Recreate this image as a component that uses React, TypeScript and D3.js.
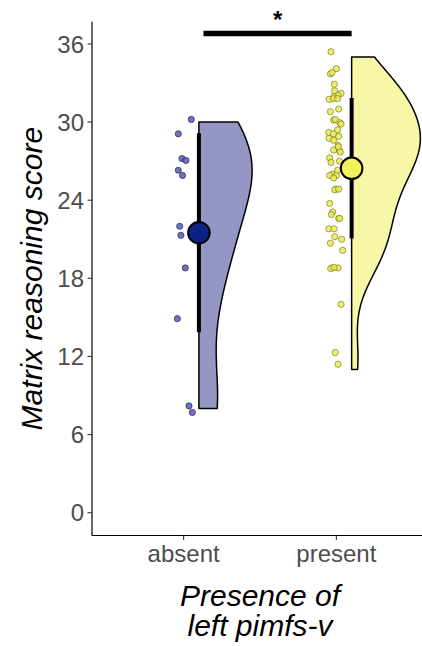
import React from 'react';
import * as d3 from 'd3';

// Groups on the x axis
const groups = ['absent', 'present'];

// Matrix reasoning scores per group
const absentScores = [30, 29, 27, 27, 26, 26, 22, 21, 19, 15, 8, 8];
const presentScores = [
  35, 34, 34, 34, 33, 32, 32, 32, 32, 32, 32, 32, 31, 31, 30, 30, 30, 29, 29, 29,
  29, 29, 28, 28, 28, 28, 27, 27, 26, 26, 26, 26, 26, 25, 25, 25, 24, 23, 23, 23,
  23, 22, 22, 21, 21, 21, 20, 19, 19, 19, 19, 16, 12, 11, 30, 29, 28, 27,
];

// Jitter applied to the raw points (x in category units, y in score units)
const absentJitterX = [0.05, -0.035, -0.011, 0.015, -0.035, -0.007, -0.026, -0.018, 0.011, -0.041, 0.035, 0.057];
const absentJitterY = [0.2, 0.1, 0.2, 0.05, 0.3, -0.1, 0, 0.3, -0.2, -0.1, 0.2, -0.3];
const presentJitterX = [
  -0.035, 0, -0.039, -0.028, -0.013, -0.011, 0.031, 0.011, -0.018, -0.048,
  -0.018, 0.008, 0.015, -0.039, -0.018, 0.022, 0.031, 0.008, -0.05, -0.048,
  0.015, -0.018, 0.011, 0.02, -0.018, 0.026, -0.044, -0.035, -0.026, -0.044,
  0, 0.008, -0.018, -0.002, -0.011, 0.015, -0.044, -0.024, -0.033, 0.015,
  0.022, -0.05, -0.015, -0.011, -0.039, 0.035, 0.041, -0.028, -0.037, 0.011,
  -0.015, 0.031, -0.007, 0.011, -0.007, -0.02, 0.013, 0.02,
];
const presentJitterY = [
  0.4, 0.1, -0.3, -0.2, -0.1, 0.4, 0.2, 0.05, -0.05, -0.25,
  -0.2, -0.2, 0, -0.2, 0.15, -0.05, -0.15, 0.4, 0.2, -0.25,
  -0.1, -0.4, 0.2, -0.2, -0.15, -0.3, 0.25, -0.1, 0, -0.1,
  -0.1, 0.3, -0.3, -0.15, -0.2, -0.15, -0.25, 0.1, -0.1, -0.4,
  -0.4, -0.2, -0.2, 0.2, -0.3, 0, 0.15, -0.2, -0.25, -0.2,
  -0.15, 0, 0.3, 0.4, 0.2, 0.1, 0.1, 0,
];

const yTicks = [0, 6, 12, 18, 24, 30, 36];

// Significance bracket between the two groups
const sigLabel = '*';
const sigFrom = 1.13;
const sigTo = 2.1;
const sigLevel = 36.8;

const W = 422;
const H = 646;
const FONT = '"Liberation Sans", Arial, Helvetica, sans-serif';

const styles = [
  { violin: '#9497c6', point: '#5858aa', pointStroke: '#262660', mean: '#0c2385' },
  { violin: '#f8f7a7', point: '#ebea52', pointStroke: '#7d7d28', mean: '#f3f15a' },
];

function bwNrd0(v: number[]) {
  const s = v.slice().sort(d3.ascending);
  const sd = d3.deviation(s) as number;
  const iqr = (d3.quantileSorted(s, 0.75) as number) - (d3.quantileSorted(s, 0.25) as number);
  const lo = Math.min(sd, iqr / 1.34);
  return 0.9 * lo * Math.pow(v.length, -0.2);
}

function kde(v: number[], n = 512) {
  const h = bwNrd0(v);
  const [lo, hi] = d3.extent(v) as [number, number];
  const norm = 1 / (v.length * h * Math.sqrt(2 * Math.PI));
  return d3.range(n).map((i) => {
    const y = lo + ((hi - lo) * i) / (n - 1);
    let s = 0;
    for (const xi of v) {
      const u = (y - xi) / h;
      s += Math.exp(-0.5 * u * u);
    }
    return { y, d: s * norm };
  });
}

export default function App() {
  const x = d3.scaleLinear().domain([0.4, 2.6]).range([92, 428]);
  const y = d3.scaleLinear().domain([-1.75, 37.7]).range([535.5, 21.8]);

  const data = [
    { scores: absentScores, jx: absentJitterX, jy: absentJitterY },
    { scores: presentScores, jx: presentJitterX, jy: presentJitterY },
  ];

  const dens = data.map((g) => kde(g.scores));
  const maxD = d3.max(dens.flat(), (p) => p.d) as number;
  const halfWidth = 0.45; // width 0.9, half violin

  const axisX = x(0.4);
  const axisY = y(-1.75);

  return (
    <svg
      width={W}
      height={H}
      style={{ position: 'absolute', left: 0, top: 0, background: '#fff' }}
      fontFamily={FONT}
    >
      <rect width={W} height={H} fill="#fff" />

      {/* half violins */}
      {data.map((g, i) => {
        const cx = i + 1 + 0.1;
        const area = d3
          .area<{ y: number; d: number }>()
          .y((p) => y(p.y))
          .x0(() => x(cx))
          .x1((p) => x(cx + (p.d / maxD) * halfWidth));
        return (
          <path
            key={'v' + i}
            d={area(dens[i]) as string}
            fill={styles[i].violin}
            stroke="#000"
            strokeWidth={1.5}
            strokeLinejoin="round"
          />
        );
      })}

      {/* raw points */}
      {data.map((g, i) =>
        g.scores.map((s, j) => (
          <circle
            key={'p' + i + '-' + j}
            cx={x(i + 1 + g.jx[j])}
            cy={y(s + g.jy[j])}
            r={3.1}
            fill={styles[i].point}
            fillOpacity={0.85}
            stroke={styles[i].pointStroke}
            strokeWidth={0.7}
          />
        ))
      )}

      {/* mean +/- SD */}
      {data.map((g, i) => {
        const m = d3.mean(g.scores) as number;
        const sd = d3.deviation(g.scores) as number;
        const cx = x(i + 1 + 0.1);
        return (
          <g key={'m' + i}>
            <line x1={cx} x2={cx} y1={y(m - sd)} y2={y(m + sd)} stroke="#000" strokeWidth={4} />
            <circle cx={cx} cy={y(m)} r={10.8} fill={styles[i].mean} stroke="#000" strokeWidth={2} />
          </g>
        );
      })}

      {/* significance bracket */}
      <line x1={x(sigFrom)} x2={x(sigTo)} y1={y(sigLevel)} y2={y(sigLevel)} stroke="#000" strokeWidth={5.5} />
      <text
        x={(x(sigFrom) + x(sigTo)) / 2}
        y={28}
        textAnchor="middle"
        fontSize={24}
        fontWeight="bold"
        fill="#000"
      >
        {sigLabel}
      </text>

      {/* y axis */}
      <line x1={axisX} x2={axisX} y1={y(37.7)} y2={axisY} stroke="#000" strokeWidth={1.2} />
      {yTicks.map((t) => (
        <g key={'yt' + t}>
          <line x1={axisX - 4.5} x2={axisX} y1={y(t)} y2={y(t)} stroke="#333" strokeWidth={1.1} />
          <text x={84} y={y(t)} dy="0.36em" textAnchor="end" fontSize={24} fill="#4d4d4d">
            {t}
          </text>
        </g>
      ))}

      {/* x axis */}
      <line x1={axisX} x2={W} y1={axisY} y2={axisY} stroke="#000" strokeWidth={1.2} />
      {groups.map((g, i) => (
        <g key={'xt' + g}>
          <line x1={x(i + 1)} x2={x(i + 1)} y1={axisY} y2={axisY + 4.5} stroke="#333" strokeWidth={1.1} />
          <text x={x(i + 1)} y={562} textAnchor="middle" fontSize={24} fill="#4d4d4d">
            {g}
          </text>
        </g>
      ))}

      {/* axis titles */}
      <text x={x(1.5)} y={606} textAnchor="middle" fontSize={30} fontStyle="italic" fill="#000">
        Presence of
      </text>
      <text x={x(1.5)} y={636} textAnchor="middle" fontSize={30} fontStyle="italic" fill="#000">
        left pimfs-v
      </text>
      <text
        transform={`translate(42, ${(y(37.7) + axisY) / 2}) rotate(-90)`}
        textAnchor="middle"
        fontSize={30}
        fontStyle="italic"
        fill="#000"
      >
        Matrix reasoning score
      </text>
    </svg>
  );
}
